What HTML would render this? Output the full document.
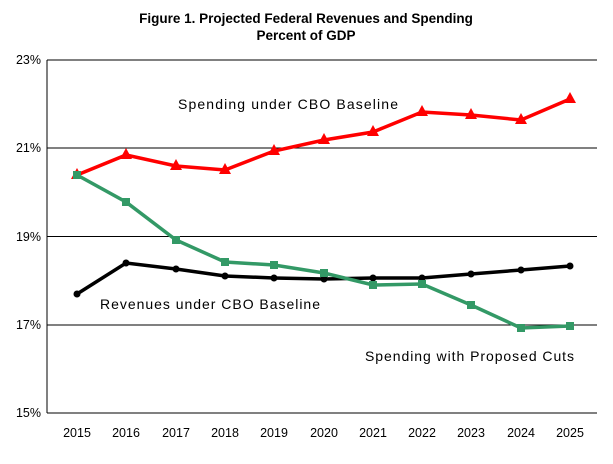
<!DOCTYPE html>
<html><head><style>body{margin:0;background:#fff}</style></head><body>
<svg width="613" height="459" viewBox="0 0 613 459" xmlns="http://www.w3.org/2000/svg" font-family="Liberation Sans, Arial, sans-serif">
<rect width="613" height="459" fill="#fff"/>
<text x="306" y="23" text-anchor="middle" font-size="13.5" font-weight="bold">Figure 1. Projected Federal Revenues and Spending</text>
<text x="306" y="40" text-anchor="middle" font-size="13.5" font-weight="bold">Percent of GDP</text>
<g stroke="#000" stroke-width="1">
<line x1="47" y1="60" x2="597" y2="60"/>
<line x1="47" y1="148" x2="597" y2="148"/>
<line x1="47" y1="236.5" x2="597" y2="236.5"/>
<line x1="47" y1="325" x2="597" y2="325"/>
<line x1="47" y1="413" x2="597" y2="413"/>
<line x1="47" y1="60" x2="47" y2="413"/>
</g>
<g font-size="12.5" text-anchor="end">
<text x="41" y="64">23%</text><text x="41" y="152">21%</text><text x="41" y="241">19%</text><text x="41" y="329">17%</text><text x="41" y="417">15%</text>
</g>
<g font-size="12.5" text-anchor="middle">
<text x="77" y="437">2015</text><text x="126" y="437">2016</text><text x="176" y="437">2017</text><text x="225" y="437">2018</text><text x="274" y="437">2019</text><text x="324" y="437">2020</text><text x="373" y="437">2021</text><text x="422" y="437">2022</text><text x="471" y="437">2023</text><text x="521" y="437">2024</text><text x="570" y="437">2025</text>
</g>
<polyline fill="none" stroke="#f00" stroke-width="3.5" points="77,175 126,155 176,166 225,170 274,151 324,140 373,132 422,112 471,115 521,120 570,99"/>
<g fill="#f00">
<polygon points="77,168 71,179 83,179"/><polygon points="126,148 120,159 132,159"/><polygon points="176,159 170,170 182,170"/><polygon points="225,163 219,174 231,174"/><polygon points="274,144 268,155 280,155"/><polygon points="324,133 318,144 330,144"/><polygon points="373,125 367,136 379,136"/><polygon points="422,105 416,116 428,116"/><polygon points="471,108 465,119 477,119"/><polygon points="521,113 515,124 527,124"/><polygon points="570,92 564,103 576,103"/>
</g>
<polyline fill="none" stroke="#000" stroke-width="3.5" points="77,294 126,263 176,269 225,276 274,278 324,279 373,278 422,278 471,274 521,270 570,266"/>
<g fill="#000">
<circle cx="77" cy="294" r="3.5"/><circle cx="126" cy="263" r="3.5"/><circle cx="176" cy="269" r="3.5"/><circle cx="225" cy="276" r="3.5"/><circle cx="274" cy="278" r="3.5"/><circle cx="324" cy="279" r="3.5"/><circle cx="373" cy="278" r="3.5"/><circle cx="422" cy="278" r="3.5"/><circle cx="471" cy="274" r="3.5"/><circle cx="521" cy="270" r="3.5"/><circle cx="570" cy="266" r="3.5"/>
</g>
<polyline fill="none" stroke="#339966" stroke-width="3.5" points="77,175 126,202 176,240 225,262 274,265 324,273 373,285 422,284 471,305 521,328 570,326"/>
<g fill="#339966">
<rect x="73" y="171" width="8" height="8"/><rect x="122" y="198" width="8" height="8"/><rect x="172" y="236" width="8" height="8"/><rect x="221" y="258" width="8" height="8"/><rect x="270" y="261" width="8" height="8"/><rect x="320" y="269" width="8" height="8"/><rect x="369" y="281" width="8" height="8"/><rect x="418" y="280" width="8" height="8"/><rect x="467" y="301" width="8" height="8"/><rect x="517" y="324" width="8" height="8"/><rect x="566" y="322" width="8" height="8"/>
</g>
<g font-size="14">
<text x="178" y="109" textLength="220" lengthAdjust="spacing">Spending under CBO Baseline</text>
<text x="100" y="309" textLength="220" lengthAdjust="spacing">Revenues under CBO Baseline</text>
<text x="365" y="361" textLength="209" lengthAdjust="spacing">Spending with Proposed Cuts</text>
</g>
</svg>
</body></html>
